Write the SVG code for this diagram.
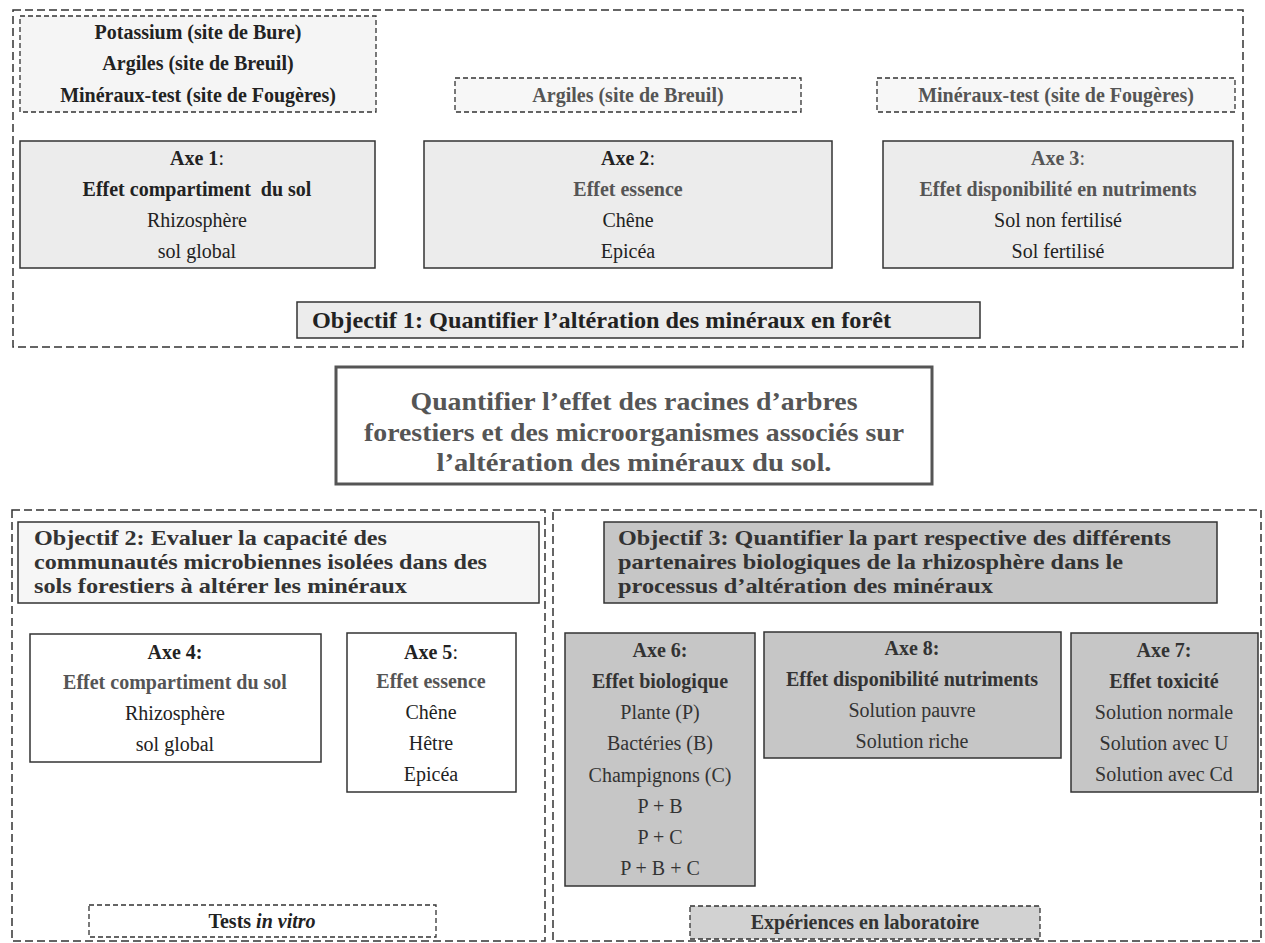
<svg xmlns="http://www.w3.org/2000/svg" width="1265" height="943" viewBox="0 0 1265 943">
<style>
.t{font-family:"Liberation Serif","Times New Roman",serif;font-size:20px;text-anchor:middle;fill:#222}
.l{text-anchor:start}
.b{font-weight:bold}
.g{fill:#555}
.d{fill:#333}
.i{font-style:italic}
.n{font-weight:normal}
.o{font-size:21px}
.outer{fill:none;stroke:#333;stroke-width:1.5;stroke-dasharray:8 4}
.dbox{stroke:#333;stroke-width:1.3;stroke-dasharray:5 3}
.box{stroke:#333;stroke-width:1.5}
.lt{fill:#ececec}
.wh{fill:#ffffff}
.gr{fill:#c6c6c6}
</style>
<rect width="1265" height="943" fill="#ffffff"/>

<g id="connectors"></g>

<g id="section1">
<rect class="outer" x="13" y="10" width="1230" height="337"/>
</g>

<g id="sites-all">
<rect class="dbox" x="20" y="16" width="356" height="96" fill="#f5f5f5"/>
<text class="t b" x="198" y="39">Potassium (site de Bure)</text>
<text class="t b" x="198" y="70">Argiles (site de Breuil)</text>
<text class="t b" x="198" y="102">Minéraux-test (site de Fougères)</text>
</g>

<g id="site-breuil">
<rect class="dbox" x="455" y="78" width="346" height="34" fill="#f7f7f7"/>
<text class="t b g" x="628" y="102">Argiles (site de Breuil)</text>
</g>

<g id="site-fougeres">
<rect class="dbox" x="877" y="78" width="358" height="34" fill="#f7f7f7"/>
<text class="t b g" x="1056" y="102">Minéraux-test (site de Fougères)</text>
</g>

<g id="axe1">
<rect class="box lt" x="20" y="141" width="355" height="127"/>
<text class="t b" x="197" y="165">Axe 1<tspan class="n">:</tspan></text>
<text class="t b" x="197" y="196" xml:space="preserve">Effet compartiment  du sol</text>
<text class="t" x="197" y="227">Rhizosphère</text>
<text class="t" x="197" y="258">sol global</text>
</g>

<g id="axe2">
<rect class="box lt" x="424" y="141" width="408" height="127"/>
<text class="t b" x="628" y="165">Axe 2<tspan class="n">:</tspan></text>
<text class="t b g" x="628" y="196">Effet essence</text>
<text class="t" x="628" y="227">Chêne</text>
<text class="t" x="628" y="258">Epicéa</text>
</g>

<g id="axe3">
<rect class="box lt" x="883" y="141" width="350" height="127"/>
<text class="t b g" x="1058" y="165">Axe 3<tspan class="n">:</tspan></text>
<text class="t b g" x="1058" y="196">Effet disponibilité en nutriments</text>
<text class="t" x="1058" y="227">Sol non fertilisé</text>
<text class="t" x="1058" y="258">Sol fertilisé</text>
</g>

<g id="objectif1">
<rect class="box lt" x="297" y="302" width="683" height="36"/>
<text class="t l b" x="312" y="328" style="font-size:24px" textLength="579" lengthAdjust="spacingAndGlyphs">Objectif 1: Quantifier l’altération des minéraux en forêt</text>
</g>

<g id="but-general">
<rect x="336" y="367" width="596" height="117" fill="#ffffff" stroke="#555" stroke-width="3"/>
<text class="t b g" x="634" y="410" style="font-size:25px" textLength="447" lengthAdjust="spacingAndGlyphs">Quantifier l’effet des racines d’arbres</text>
<text class="t b g" x="634" y="441" style="font-size:25px" textLength="540" lengthAdjust="spacingAndGlyphs">forestiers et des microorganismes associés sur</text>
<text class="t b g" x="634" y="471" style="font-size:25px" textLength="395" lengthAdjust="spacingAndGlyphs">l’altération des minéraux du sol.</text>
</g>

<g id="section2">
<rect class="outer" x="12" y="510" width="533" height="431"/>
</g>

<g id="objectif2">
<rect class="box" x="18" y="522" width="521" height="81" fill="#f6f6f6"/>
<text class="t l b d o" x="34" y="545" textLength="353" lengthAdjust="spacingAndGlyphs">Objectif 2: Evaluer la capacité des</text>
<text class="t l b d o" x="34" y="569" textLength="453" lengthAdjust="spacingAndGlyphs">communautés microbiennes isolées dans des</text>
<text class="t l b d o" x="34" y="593" textLength="373" lengthAdjust="spacingAndGlyphs">sols forestiers à altérer les minéraux</text>
</g>

<g id="axe4">
<rect class="box wh" x="30" y="634" width="291" height="128"/>
<text class="t b" x="175" y="659">Axe 4:</text>
<text class="t b g" x="175" y="689">Effet compartiment du sol</text>
<text class="t" x="175" y="720">Rhizosphère</text>
<text class="t" x="175" y="751">sol global</text>
</g>

<g id="axe5">
<rect class="box wh" x="347" y="633" width="169" height="159"/>
<text class="t b" x="431" y="659">Axe 5<tspan class="n">:</tspan></text>
<text class="t b g" x="431" y="688">Effet essence</text>
<text class="t" x="431" y="719">Chêne</text>
<text class="t" x="431" y="750">Hêtre</text>
<text class="t" x="431" y="781">Epicéa</text>
</g>

<g id="tests-in-vitro">
<rect class="dbox" x="89" y="905" width="347" height="32" fill="#ffffff"/>
<text class="t b" x="262" y="928">Tests <tspan class="i">in vitro</tspan></text>
</g>

<g id="section3">
<rect class="outer" x="553" y="510" width="708" height="431"/>
</g>

<g id="objectif3">
<rect class="box gr" x="604" y="522" width="613" height="81"/>
<text class="t l b d o" x="618" y="545" textLength="553" lengthAdjust="spacingAndGlyphs">Objectif 3: Quantifier la part respective des différents</text>
<text class="t l b d o" x="618" y="569" textLength="505" lengthAdjust="spacingAndGlyphs">partenaires biologiques de la rhizosphère dans le</text>
<text class="t l b d o" x="618" y="593" textLength="375" lengthAdjust="spacingAndGlyphs">processus d’altération des minéraux</text>
</g>

<g id="axe6">
<rect class="box gr" x="565" y="633" width="190" height="253"/>
<text class="t b d" x="660" y="657">Axe 6:</text>
<text class="t b d" x="660" y="688">Effet biologique</text>
<text class="t d" x="660" y="719">Plante (P)</text>
<text class="t d" x="660" y="750">Bactéries (B)</text>
<text class="t d" x="660" y="782">Champignons (C)</text>
<text class="t d" x="660" y="813">P + B</text>
<text class="t d" x="660" y="844">P + C</text>
<text class="t d" x="660" y="875">P + B + C</text>
</g>

<g id="axe8">
<rect class="box gr" x="764" y="632" width="297" height="126"/>
<text class="t b d" x="912" y="655">Axe 8:</text>
<text class="t b d" x="912" y="686">Effet disponibilité nutriments</text>
<text class="t d" x="912" y="717">Solution pauvre</text>
<text class="t d" x="912" y="748">Solution riche</text>
</g>

<g id="axe7">
<rect class="box gr" x="1071" y="633" width="187" height="159"/>
<text class="t b d" x="1164" y="657">Axe 7:</text>
<text class="t b d" x="1164" y="688">Effet toxicité</text>
<text class="t d" x="1164" y="719">Solution normale</text>
<text class="t d" x="1164" y="750">Solution avec U</text>
<text class="t d" x="1164" y="781">Solution avec Cd</text>
</g>

<g id="experiences-laboratoire">
<rect class="dbox" x="690" y="906" width="350" height="33" fill="#d2d2d2"/>
<text class="t b d" x="865" y="929">Expériences en laboratoire</text>
</g>
</svg>
